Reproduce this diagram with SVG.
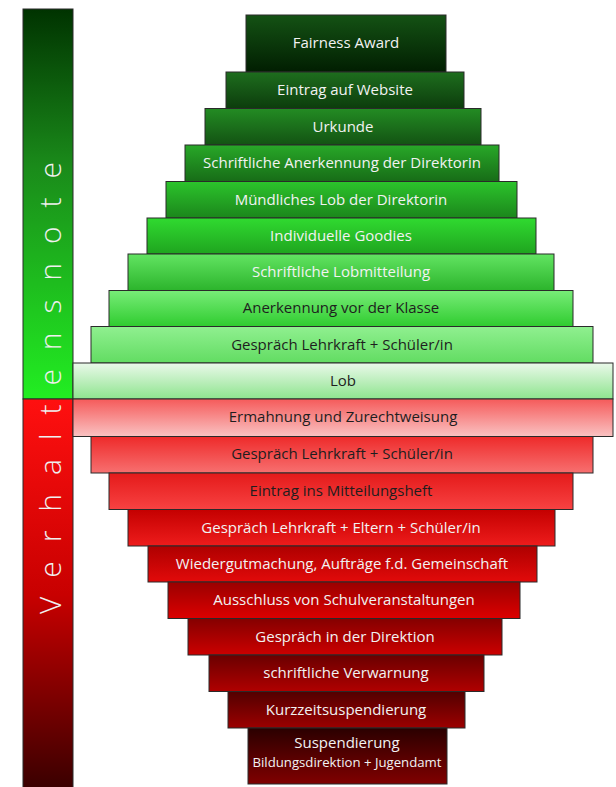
<svg xmlns="http://www.w3.org/2000/svg" width="616" height="787" viewBox="0 0 616 787">
<defs>
<linearGradient id="sideG" x1="0" y1="0" x2="0" y2="1"><stop offset="0" stop-color="#003300"/><stop offset="0.4" stop-color="#1a8a1a"/><stop offset="1" stop-color="#22ee22"/></linearGradient>
<linearGradient id="sideR" x1="0" y1="0" x2="0" y2="1"><stop offset="0" stop-color="#ff1010"/><stop offset="0.5" stop-color="#c80000"/><stop offset="1" stop-color="#380000"/></linearGradient>
<linearGradient id="g1" x1="0" y1="0" x2="0" y2="1"><stop offset="0" stop-color="#145214"/><stop offset="1" stop-color="#011e01"/></linearGradient>
<linearGradient id="g2" x1="0" y1="0" x2="0" y2="1"><stop offset="0" stop-color="#1e6e1e"/><stop offset="1" stop-color="#0c3c0c"/></linearGradient>
<linearGradient id="g3" x1="0" y1="0" x2="0" y2="1"><stop offset="0" stop-color="#238c23"/><stop offset="1" stop-color="#135213"/></linearGradient>
<linearGradient id="g4" x1="0" y1="0" x2="0" y2="1"><stop offset="0" stop-color="#28a828"/><stop offset="1" stop-color="#176c17"/></linearGradient>
<linearGradient id="g5" x1="0" y1="0" x2="0" y2="1"><stop offset="0" stop-color="#2cc42c"/><stop offset="1" stop-color="#1b861b"/></linearGradient>
<linearGradient id="g6" x1="0" y1="0" x2="0" y2="1"><stop offset="0" stop-color="#30da30"/><stop offset="1" stop-color="#1fa41f"/></linearGradient>
<linearGradient id="g7" x1="0" y1="0" x2="0" y2="1"><stop offset="0" stop-color="#62e462"/><stop offset="1" stop-color="#2cb42c"/></linearGradient>
<linearGradient id="g8" x1="0" y1="0" x2="0" y2="1"><stop offset="0" stop-color="#78ec78"/><stop offset="1" stop-color="#2fcc2f"/></linearGradient>
<linearGradient id="g9" x1="0" y1="0" x2="0" y2="1"><stop offset="0" stop-color="#90f090"/><stop offset="1" stop-color="#62dc62"/></linearGradient>
<linearGradient id="g10" x1="0" y1="0" x2="0" y2="1"><stop offset="0" stop-color="#eaf9ea"/><stop offset="1" stop-color="#8ee48e"/></linearGradient>
<linearGradient id="r1" x1="0" y1="0" x2="0" y2="1"><stop offset="0" stop-color="#f55a5a"/><stop offset="1" stop-color="#fac2c2"/></linearGradient>
<linearGradient id="r2" x1="0" y1="0" x2="0" y2="1"><stop offset="0" stop-color="#ee2a2a"/><stop offset="1" stop-color="#f77070"/></linearGradient>
<linearGradient id="r3" x1="0" y1="0" x2="0" y2="1"><stop offset="0" stop-color="#e41a1a"/><stop offset="1" stop-color="#f84242"/></linearGradient>
<linearGradient id="r4" x1="0" y1="0" x2="0" y2="1"><stop offset="0" stop-color="#c40000"/><stop offset="1" stop-color="#ee1c1c"/></linearGradient>
<linearGradient id="r5" x1="0" y1="0" x2="0" y2="1"><stop offset="0" stop-color="#ae0000"/><stop offset="1" stop-color="#e20a0a"/></linearGradient>
<linearGradient id="r6" x1="0" y1="0" x2="0" y2="1"><stop offset="0" stop-color="#9a0000"/><stop offset="1" stop-color="#dc0000"/></linearGradient>
<linearGradient id="r7" x1="0" y1="0" x2="0" y2="1"><stop offset="0" stop-color="#840000"/><stop offset="1" stop-color="#cc0000"/></linearGradient>
<linearGradient id="r8" x1="0" y1="0" x2="0" y2="1"><stop offset="0" stop-color="#6a0000"/><stop offset="1" stop-color="#b00000"/></linearGradient>
<linearGradient id="r9" x1="0" y1="0" x2="0" y2="1"><stop offset="0" stop-color="#520000"/><stop offset="1" stop-color="#9c0000"/></linearGradient>
<linearGradient id="r10" x1="0" y1="0" x2="0" y2="1"><stop offset="0" stop-color="#2a0000"/><stop offset="1" stop-color="#800000"/></linearGradient>
</defs>
<style>
.bar{stroke:#2a2a2a;stroke-width:1}
.t{font-family:"Open Sans","Liberation Sans",sans-serif;font-size:15px;text-anchor:middle}
.w{fill:#f2f2f2}
.d{fill:#1e1e1e}
.side{font-family:"Open Sans","Liberation Sans",sans-serif;font-weight:300;font-size:30px;fill:#f0f0f0}
</style>
<rect width="616" height="787" fill="#ffffff"/>
<g id="side">
<rect class="bar" x="23" y="9" width="50" height="390" fill="url(#sideG)"/>
<rect class="bar" x="23" y="399" width="50" height="392" fill="url(#sideR)"/>
<text class="side" transform="translate(61,614) rotate(-90)" textLength="452" lengthAdjust="spacing">Verhaltensnote</text>
</g>
<g id="n1"><rect class="bar" x="246" y="15" width="200" height="57" fill="url(#g1)"/><text class="t w" x="346" y="48">Fairness Award</text></g>
<g id="n2"><rect class="bar" x="226" y="72" width="238" height="36.5" fill="url(#g2)"/><text class="t w" x="345" y="95">Eintrag auf Website</text></g>
<g id="n3"><rect class="bar" x="205" y="108.5" width="276" height="36.5" fill="url(#g3)"/><text class="t w" x="343" y="131.5">Urkunde</text></g>
<g id="n4"><rect class="bar" x="185" y="145" width="314" height="36.5" fill="url(#g4)"/><text class="t w" x="342" y="168">Schriftliche Anerkennung der Direktorin</text></g>
<g id="n5"><rect class="bar" x="166" y="181.5" width="351" height="36.5" fill="url(#g5)"/><text class="t w" x="341" y="204.5">Mündliches Lob der Direktorin</text></g>
<g id="n6"><rect class="bar" x="147" y="218" width="389" height="36" fill="url(#g6)"/><text class="t w" x="341" y="240.5">Individuelle Goodies</text></g>
<g id="n7"><rect class="bar" x="128" y="254" width="426" height="36.5" fill="url(#g7)"/><text class="t w" x="341" y="277">Schriftliche Lobmitteilung</text></g>
<g id="n8"><rect class="bar" x="109" y="290.5" width="464" height="36" fill="url(#g8)"/><text class="t d" x="341" y="313">Anerkennung vor der Klasse</text></g>
<g id="n9"><rect class="bar" x="91" y="326.5" width="502" height="36.5" fill="url(#g9)"/><text class="t d" x="342" y="349.5">Gespräch Lehrkraft + Schüler/in</text></g>
<g id="n10"><rect class="bar" x="73" y="363" width="540" height="36" fill="url(#g10)"/><text class="t d" x="343" y="385.5">Lob</text></g>
<g id="n11"><rect class="bar" x="73" y="399" width="540" height="37.5" fill="url(#r1)"/><text class="t d" x="343" y="422">Ermahnung und Zurechtweisung</text></g>
<g id="n12"><rect class="bar" x="91" y="436.5" width="502" height="36.5" fill="url(#r2)"/><text class="t d" x="342" y="459">Gespräch Lehrkraft + Schüler/in</text></g>
<g id="n13"><rect class="bar" x="109" y="473" width="464" height="36.5" fill="url(#r3)"/><text class="t d" x="341" y="496">Eintrag ins Mitteilungsheft</text></g>
<g id="n14"><rect class="bar" x="128" y="509.5" width="427" height="36.5" fill="url(#r4)"/><text class="t w" x="341" y="532.5">Gespräch Lehrkraft + Eltern + Schüler/in</text></g>
<g id="n15"><rect class="bar" x="148" y="546" width="389" height="36" fill="url(#r5)"/><text class="t w" x="342" y="568.5">Wiedergutmachung, Aufträge f.d. Gemeinschaft</text></g>
<g id="n16"><rect class="bar" x="168" y="582" width="352" height="36.5" fill="url(#r6)"/><text class="t w" x="344" y="605">Ausschluss von Schulveranstaltungen</text></g>
<g id="n17"><rect class="bar" x="188" y="618.5" width="314" height="36.5" fill="url(#r7)"/><text class="t w" x="345" y="641.5">Gespräch in der Direktion</text></g>
<g id="n18"><rect class="bar" x="209" y="655" width="275" height="36.5" fill="url(#r8)"/><text class="t w" x="346" y="678">schriftliche Verwarnung</text></g>
<g id="n19"><rect class="bar" x="228" y="691.5" width="237" height="36.5" fill="url(#r9)"/><text class="t w" x="346" y="714.5">Kurzzeitsuspendierung</text></g>
<g id="n20"><rect class="bar" x="248" y="728" width="199" height="56" fill="url(#r10)"/><text class="t w" x="347" y="748">Suspendierung</text><text class="t w" x="347" y="767" style="font-size:13.2px">Bildungsdirektion + Jugendamt</text></g>
<g id="connectors"/>
</svg>
